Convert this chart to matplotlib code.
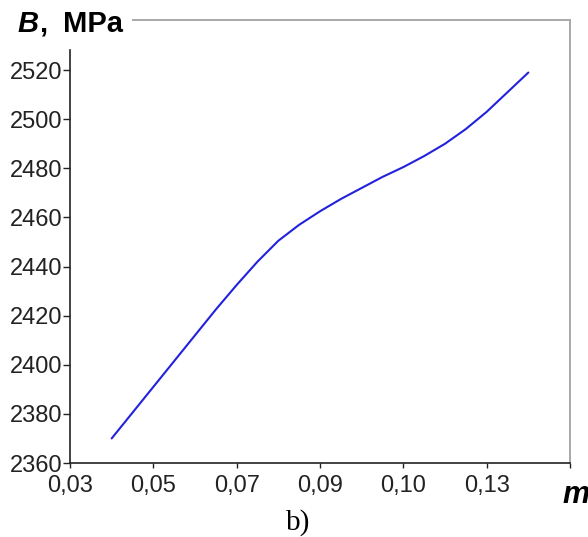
import matplotlib
matplotlib.use("Agg")
import matplotlib.pyplot as plt

m_values = [0.04, 0.045, 0.05, 0.055, 0.06, 0.065, 0.07, 0.075, 0.08, 0.085,
            0.09, 0.095, 0.10, 0.105, 0.11, 0.115, 0.12, 0.125, 0.13, 0.135, 0.14]
B_values = [2370, 2380.5, 2391, 2401.5, 2412, 2422.5, 2432.5, 2442, 2450.5, 2457,
            2462.5, 2467.5, 2472, 2476.5, 2480.5, 2485, 2490, 2496, 2503, 2511, 2519]
x_tick_pos = [0.03, 0.05, 0.07, 0.09, 0.11, 0.13, 0.15]
x_tick_labels = ["0,03", "0,05", "0,07", "0,09", "0,10", "0,13", ""]
y_ticks = [2360, 2380, 2400, 2420, 2440, 2460, 2480, 2500, 2520]

plt.rcParams['font.family'] = ['Liberation Sans', 'DejaVu Sans']

W, H = 588, 537
fig = plt.figure(figsize=(W / 100, H / 100), dpi=100)
ax = fig.add_axes([70 / W, 74 / H, 500 / W, 443 / H])

ax.plot(m_values, B_values, color='#2222dd', lw=1.5, solid_capstyle='round')

ax.set_xlim(0.03, 0.15)
ax.set_ylim(2360, 2540.4)
ax.set_xticks(x_tick_pos)
ax.set_xticklabels(x_tick_labels)
ax.set_yticks(y_ticks)
ax.set_yticklabels([str(v) for v in y_ticks])
ax.tick_params(axis='both', labelsize=17, direction='out', width=1,
               colors='#222222')
ax.tick_params(axis='x', length=3.5, pad=5)
ax.tick_params(axis='y', length=5, pad=0.5)

for s in ['left', 'bottom']:
    ax.spines[s].set_color('#222222')
    ax.spines[s].set_linewidth(1.2)
for s in ['top', 'right']:
    ax.spines[s].set_color('#a8a8a8')
    ax.spines[s].set_linewidth(1.4)
ax.spines['left'].set_bounds(2360, 2528)
ax.spines['top'].set_bounds(0.0451, 0.15)

tb = fig.text(17 / W, 1 - 32 / H, "B", fontsize=21, fontweight='bold', style='italic',
              ha='left', va='baseline')
fig.canvas.draw()
bb = tb.get_window_extent(renderer=fig.canvas.get_renderer())
fig.text((bb.x1 + 1) / W, 1 - 32 / H, ",", fontsize=21, fontweight='bold',
         ha='left', va='baseline')
fig.text(123 / W, 1 - 32 / H, "MPa", fontsize=21, fontweight='bold',
         ha='right', va='baseline')
fig.text(562 / W, 1 - 503 / H, "m", fontsize=22, fontweight='bold', style='italic',
         ha='left', va='baseline')
fig.text(298 / W, 1 - 530 / H, "b)", fontsize=21, family='Liberation Serif',
         ha='center', va='baseline')

fig.savefig("out.png", dpi=100)
